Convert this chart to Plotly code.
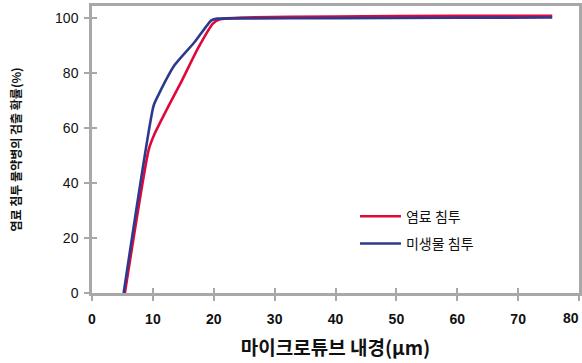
import plotly.graph_objects as go

# Data
dye_x = [5.4, 9.3, 10.3, 12.8, 14.7, 17.4, 19.9, 21.0, 25.0, 40.0, 60.0, 75.6]
dye_y = [0.0, 52.0, 58.0, 69.0, 77.0, 89.0, 98.1, 99.6, 100.2, 100.6, 100.8, 100.8]

mic_x = [5.2, 10.1, 10.9, 13.6, 16.9, 19.6, 20.6, 25.0, 40.0, 60.0, 75.6]
mic_y = [0.0, 68.0, 72.0, 83.0, 91.4, 99.2, 99.8, 99.9, 100.0, 100.1, 100.2]

series_names = ["염료 침투", "미생물 침투"]
x_ticks = [0, 10, 20, 30, 40, 50, 60, 70, 80]
x_tick_labels = ["0", "10", "20", "30", "40", "50", "60", "70", "80"]
y_ticks = [0, 20, 40, 60, 80, 100]

RED = "#E2073A"
BLUE = "#2B3A8C"
GREY = "#A8A8A8"

fig = go.Figure()
fig.add_trace(go.Scatter(x=dye_x, y=dye_y, mode="lines", name=series_names[0], legendgroup="a",
                         line=dict(color=RED, width=2.6, shape="spline", smoothing=0.5)))
fig.add_trace(go.Scatter(x=mic_x, y=mic_y, mode="lines", name=series_names[1], legendgroup="b",
                         line=dict(color=BLUE, width=2.6, shape="spline", smoothing=0.5)))
# empty trace to activate overlay axes (inside tick halves)
fig.add_trace(go.Scatter(x=[], y=[], xaxis="x2", yaxis="y2", showlegend=False, hoverinfo="skip"))

axis_common = dict(showgrid=False, zeroline=False, showline=True, linecolor=GREY, linewidth=2.5,
                   ticks="outside", ticklen=5, tickwidth=1.5, tickcolor=GREY, automargin=False,
                   ticklabeloverflow="allow")

tick_font = dict(size=14, family="Liberation Sans, Arial", weight="bold", color="#111111")

fig.update_layout(
    width=582, height=363,
    margin=dict(l=92, r=3, t=6, b=70),
    paper_bgcolor="white", plot_bgcolor="white",
    font=dict(family="Liberation Sans, Arial, sans-serif", color="#111111"),
    xaxis=dict(range=[0, 80], tickvals=x_ticks, ticktext=x_tick_labels[:-1] + [""], mirror=True,
               tickfont=tick_font,
               ticklabelstandoff=6,
               title=dict(text="마이크로튜브 내경(μm)", standoff=17,
                          font=dict(size=19, family="Noto Sans CJK KR", weight="bold")),
               **axis_common),
    yaxis=dict(range=[0, 104.4], tickvals=y_ticks, mirror=True,
               tickfont=dict(size=14, family="Liberation Sans, Arial"),
               ticklabelstandoff=3,
               title=dict(text="염료 침투 물약병의 검출 확률(%)", standoff=31,
                          font=dict(size=12, family="Noto Sans CJK KR", weight="bold")),
               **axis_common),
    xaxis2=dict(range=[0, 80], tickvals=x_ticks, overlaying="x", anchor="y2", showticklabels=False,
                showgrid=False, zeroline=False, showline=False, ticks="inside", ticklen=5,
                tickwidth=1.5, tickcolor=GREY, automargin=False),
    yaxis2=dict(range=[0, 104.4], tickvals=y_ticks, overlaying="y", anchor="x2", showticklabels=False,
                showgrid=False, zeroline=False, showline=False, ticks="inside", ticklen=5,
                tickwidth=1.5, tickcolor=GREY, automargin=False),
    legend=dict(x=0.54, y=0.219, xanchor="left", yanchor="middle", bgcolor="rgba(0,0,0,0)",
                font=dict(size=14, family="Noto Sans CJK KR"), itemwidth=41,
                tracegroupgap=6),
    showlegend=True,
)

# last x tick label, kept inside the page edge
fig.add_annotation(x=x_ticks[-1], xref="x", y=0, yref="paper", text=x_tick_labels[-1],
                   showarrow=False, xanchor="right", yanchor="middle", xshift=2, yshift=-24.5,
                   font=tick_font)

fig.write_html("out.html", config={"displayModeBar": False},
               post_script="document.body.style.margin='0';")
